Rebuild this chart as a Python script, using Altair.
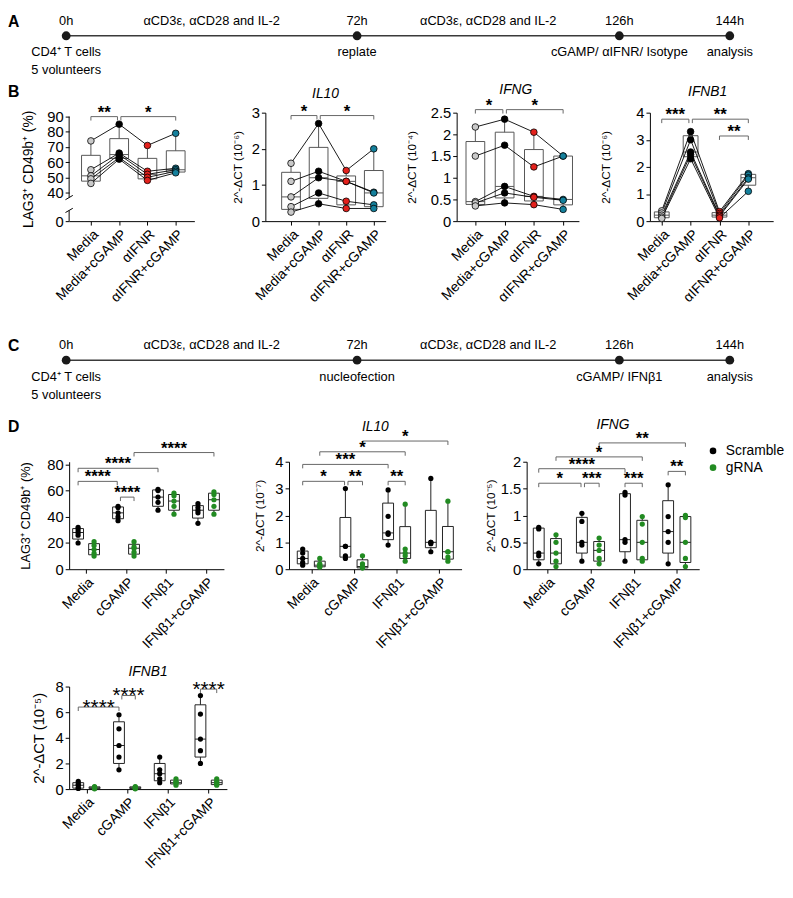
import altair as alt
import numpy as np
import pandas as pd

FONT = "Liberation Sans"

# ---------------- timelines (A, C) ----------------
TL_HOURS = [0, 72, 126, 144]
TL_HOUR_LABELS = ["0h", "72h", "126h", "144h"]
TL_MID_HOURS = [36, 99]
TL_MID_LABELS = ["αCD3ε, αCD28 and IL-2", "αCD3ε, αCD28 and IL-2"]
A_EVENTS = ["CD4⁺ T cells\n5 volunteers", "replate", "cGAMP/ αIFNR/ Isotype", "analysis"]
C_EVENTS = ["CD4⁺ T cells\n5 volunteers", "nucleofection", "cGAMP/ IFNβ1", "analysis"]

# ---------------- panel B (rows = donors, columns = conditions) ----------------
B_CONDS = ["Media", "Media+cGAMP", "αIFNR", "αIFNR+cGAMP"]
B_COLORS = ["#c9c9c9", "#000000", "#e3211c", "#14809c"]
B_LAG3 = [[74, 85, 71, 79], [55, 66, 54, 56], [51, 65, 52, 55], [49, 63, 50, 54], [46, 62, 48, 53]]
B_IL10 = [[1.6, 2.7, 1.4, 2.0], [1.1, 1.38, 1.1, 0.8], [0.67, 1.2, 1.1, 0.78],
          [0.4, 0.78, 0.55, 0.45], [0.25, 0.48, 0.35, 0.35]]
B_IFNG = [[2.17, 2.35, 2.05, 1.5], [1.5, 1.75, 1.25, 1.5], [0.45, 0.8, 0.57, 0.5],
          [0.42, 0.65, 0.55, 0.48], [0.35, 0.42, 0.38, 0.27]]
B_IFNB1 = [[0.38, 3.3, 0.35, 1.75], [0.3, 3.0, 0.28, 1.7], [0.22, 2.55, 0.22, 1.6],
           [0.15, 2.45, 0.18, 1.55], [0.1, 2.3, 0.12, 1.1]]
# significance brackets: (from, to, level, label)
B_LAG3_SIG = [(0, 0.94, 90, "**"), (1.06, 3, 90, "*")]
B_IL10_SIG = [(0, 0.94, 2.92, "*"), (1.06, 3, 2.92, "*")]
B_IFNG_SIG = [(0, 0.94, 2.57, "*"), (1.06, 3, 2.57, "*")]
B_IFNB1_SIG = [(0, 0.94, 3.76, "***"), (1.06, 3, 3.76, "**"), (2, 3, 3.14, "**")]

# ---------------- panel D (rows = conditions, 5 donors each) ----------------
D_CATS = ["Media", "cGAMP", "IFNβ1", "IFNβ1+cGAMP"]
D_GROUPS = ["Scramble", "gRNA"]
D_COLORS = ["#000000", "#228b22"]
D_LAG3_S = [[32, 30, 28, 26, 20], [48, 47, 43, 40, 37], [61, 60, 55, 51, 45], [50, 47, 45, 43, 35]]
D_LAG3_G = [[21, 18, 15, 12, 10], [21, 17, 16, 13, 10], [58, 56, 52, 48, 42], [59, 57, 53, 48, 42]]
D_IL10_S = [[0.75, 0.6, 0.4, 0.25, 0.15], [3.0, 0.85, 0.85, 0.5, 0.4],
            [2.95, 1.97, 1.35, 1.3, 0.9], [3.38, 1.0, 1.0, 0.95, 0.65]]
D_IL10_G = [[0.4, 0.2, 0.15, 0.1, 0.08], [0.5, 0.2, 0.1, 0.05, 0.05],
            [2.42, 0.75, 0.6, 0.5, 0.3], [2.53, 0.65, 0.65, 0.45, 0.3]]
D_IFNG_S = [[0.78, 0.75, 0.3, 0.25, 0.1], [1.04, 0.89, 0.5, 0.45, 0.15],
            [1.43, 1.38, 0.55, 0.5, 0.15], [1.57, 0.98, 0.7, 0.5, 0.1]]
D_IFNG_G = [[0.64, 0.5, 0.3, 0.15, 0.05], [0.58, 0.45, 0.35, 0.2, 0.1],
            [0.98, 0.84, 0.5, 0.2, 0.15], [1.0, 0.96, 0.5, 0.2, 0.05]]
D_IFNB1_S = [[0.6, 0.4, 0.3, 0.1, 0.05], [5.8, 4.7, 3.4, 2.5, 1.5],
             [2.5, 1.5, 1.2, 0.8, 0.5], [7.3, 5.85, 3.9, 3.0, 2.0]]
D_IFNB1_G = [[0.2, 0.15, 0.1, 0.05, 0.02], [0.2, 0.15, 0.1, 0.05, 0.02],
             [0.8, 0.6, 0.5, 0.5, 0.3], [0.8, 0.6, 0.5, 0.4, 0.3]]
D_LAG3_SIG = [(-0.2, 0.78, 67, "****"), (0.86, 1.2, 55, "****"), (-0.2, 1.8, 77, "****"), (1.2, 3.2, 89, "****")]
D_IL10_SIG = [(-0.2, 0.78, 3.27, "*"), (0.86, 1.2, 3.27, "**"), (-0.2, 1.8, 3.9, "***"),
              (1.8, 2.2, 3.27, "**"), (0.2, 2.2, 4.37, "*"), (1.2, 3.2, 4.77, "*")]
D_IFNG_SIG = [(-0.2, 0.78, 1.6, "*"), (0.86, 1.2, 1.6, "***"), (-0.2, 1.8, 1.87, "****"),
              (1.8, 2.2, 1.6, "***"), (0.2, 2.2, 2.09, "*"), (1.2, 3.2, 2.35, "**"), (2.8, 3.2, 1.82, "**")]
D_IFNB1_SIG = [(-0.2, 0.8, 6.4, "****"), (0.87, 1.2, 7.3, "****"), (2.8, 3.2, 7.8, "****")]
GROUP_SHIFT = {"Scramble": -0.2, "gRNA": 0.2}

TL_RANGE = [-3, 292, 558, 670]


def box_stats(vals):
    a = np.asarray(vals, dtype=float)
    q1, med, q3 = np.percentile(a, [25, 50, 75], method="weibull")
    return dict(lo=float(a.min()), q1=float(q1), med=float(med), q3=float(q3), hi=float(a.max()))


def sig_frame(sig):
    df = pd.DataFrame(sig, columns=["x1", "x2", "y", "lab"])
    df["xm"] = (df["x1"] + df["x2"]) / 2
    return df


def letter_title(letter, offset, dy=0):
    return alt.TitleParams(letter, anchor="start", frame="group", dx=-62, dy=dy, offset=offset,
                           fontSize=16, fontWeight="bold", font=FONT)


def gene_title(name, offset, dx=0):
    return alt.TitleParams(name, anchor="middle", frame="group", offset=offset, dx=dx, fontSize=14,
                           fontStyle="italic", fontWeight="normal", font=FONT)


def timeline(title, events, height, line_y):
    ev = pd.DataFrame({"h": TL_HOURS, "lab": TL_HOUR_LABELS, "ev": events})
    mid = pd.DataFrame({"h": TL_MID_HOURS, "lab": TL_MID_LABELS})
    span = pd.DataFrame({"h": [TL_HOURS[0]], "h2": [TL_HOURS[-1]]})
    xs = alt.Scale(domain=TL_HOURS, range=TL_RANGE, nice=False, zero=False)
    X = alt.X("h:Q", scale=xs, axis=None)
    yv = alt.value(line_y)
    layers = [
        alt.Chart(span).mark_rule(color="#3a3a3a", strokeWidth=1.6).encode(x=X, x2="h2:Q", y=yv),
        alt.Chart(ev).mark_circle(size=80, color="#1a1a1a", opacity=1).encode(x=X, y=yv),
        alt.Chart(ev).mark_text(fontSize=13, baseline="middle", dy=-15).encode(x=X, y=yv, text="lab:N"),
        alt.Chart(mid).mark_text(fontSize=13, baseline="middle", dy=-15).encode(x=X, y=yv, text="lab:N"),
        alt.Chart(ev).mark_text(fontSize=13, baseline="top", dy=11, lineBreak="\n", lineHeight=18)
        .encode(x=X, y=yv, text="ev:N"),
    ]
    return alt.layer(*layers).properties(width=670, height=height, title=title)


def axis_x(cats):
    expr = "[" + ",".join("'%s'" % c for c in cats) + "][datum.value]"
    return alt.Axis(values=list(range(len(cats))), labelExpr=expr, title=None, labelAngle=-45,
                    labelAlign="right", labelBaseline="top", labelFontSize=14, tickSize=4,
                    labelPadding=2, labelOverlap=False, grid=False, domainColor="black", tickColor="black")


def axis_y(values, title, tsize, tpad, domain=True):
    return alt.Axis(values=values, title=title, format=".6~g", domain=domain, tickSize=4,
                    labelFontSize=15, titleFontSize=tsize, titleFontWeight="normal", labelOverlap=False,
                    titlePadding=tpad, labelPadding=2, grid=False, domainColor="black", tickColor="black")


def panel(points, boxes, sig, *, cats, xdom, yscale, yaxis, width, height, box_w, box_color,
          point_mark, point_enc, title, lines=False, sig_size=17, sig_dy=1, sig_weight="bold", extra=()):
    xs = alt.Scale(domain=xdom, nice=False, zero=False)
    xa = axis_x(cats)

    def X(f):
        return alt.X(f, type="quantitative", scale=xs, axis=xa)

    def Y(f):
        return alt.Y(f, type="quantitative", scale=yscale, axis=yaxis)

    bb = alt.Chart(boxes)
    layers = [
        bb.mark_rule(color=box_color, strokeWidth=1).encode(x=X("pos"), y=Y("lo"), y2="hi"),
        bb.mark_rect(fill="white", stroke=box_color, strokeWidth=1, xOffset=-box_w / 2, x2Offset=box_w / 2)
        .encode(x=X("pos"), x2="pos", y=Y("q1"), y2="q3"),
        bb.mark_rule(color=box_color, strokeWidth=1, xOffset=-box_w / 2, x2Offset=box_w / 2)
        .encode(x=X("pos"), x2="pos", y=Y("med")),
    ]
    if lines:
        layers.append(alt.Chart(points).mark_line(color="black", strokeWidth=0.9)
                      .encode(x=X("pos"), y=Y("v"), detail="donor:N"))
    layers.append(alt.Chart(points).mark_circle(**point_mark).encode(x=X("pos"), y=Y("v"), **point_enc))
    s = alt.Chart(sig_frame(sig))
    layers += [
        s.mark_rule(color="#666666", strokeWidth=1).encode(x=X("x1"), x2="x2", y=Y("y")),
        s.mark_rule(color="#666666", strokeWidth=1, y2Offset=4).encode(x=X("x1"), y=Y("y"), y2="y"),
        s.mark_rule(color="#666666", strokeWidth=1, y2Offset=4).encode(x=X("x2"), y=Y("y"), y2="y"),
        s.mark_text(fontSize=sig_size, fontWeight=sig_weight, baseline="alphabetic", dy=sig_dy)
        .encode(x=X("xm"), y=Y("y"), text="lab:N"),
    ]
    for f in extra:
        layers.append(f(X, Y))
    return alt.layer(*layers).properties(width=width, height=height, title=title)


# ---------------- B builders ----------------
def b_frames(rows):
    pts = pd.DataFrame([dict(donor=d, pos=j, cond=B_CONDS[j], v=v)
                        for d, row in enumerate(rows) for j, v in enumerate(row)])
    boxes = pd.DataFrame([dict(pos=j, **box_stats([r[j] for r in rows])) for j in range(len(B_CONDS))])
    return pts, boxes


B_POINT_MARK = dict(size=45, opacity=1, stroke="black", strokeWidth=0.8)
B_POINT_ENC = dict(fill=alt.Fill("cond:N", scale=alt.Scale(domain=B_CONDS, range=B_COLORS), legend=None))


def b_panel(rows, sig, xdom, yscale, yaxis, width, title, box_w=19, extra=()):
    pts, boxes = b_frames(rows)
    return panel(pts, boxes, sig, cats=B_CONDS, xdom=xdom, yscale=yscale, yaxis=yaxis, width=width,
                 height=110, box_w=box_w, box_color="#555555", point_mark=B_POINT_MARK,
                 point_enc=B_POINT_ENC, title=title, lines=True, extra=extra)


B1_XDOM = [-0.77, 3.66]
break_df = pd.DataFrame({"y": [0, 33], "y2": [15, 90], "x": [B1_XDOM[0]] * 2})
slash_df = pd.DataFrame({"x": [B1_XDOM[0] - 0.13] * 2, "x2": [B1_XDOM[0] + 0.13] * 2,
                         "y": [12, 30], "y2": [18, 36]})


def axis_break(X, Y):
    return alt.layer(
        alt.Chart(break_df).mark_rule(color="black", strokeWidth=1).encode(x=X("x"), y=Y("y"), y2="y2"),
        alt.Chart(slash_df).mark_rule(color="black", strokeWidth=1).encode(x=X("x"), x2="x2", y=Y("y"), y2="y2"),
    )


b1 = b_panel(B_LAG3, B_LAG3_SIG, B1_XDOM,
             alt.Scale(domain=[0, 40, 90], range=[110, 81, 4], nice=False, zero=False),
             axis_y([0, 40, 50, 60, 70, 80, 90], "LAG3⁺ CD49b⁺ (%)", 14, 11, domain=False),
             127, letter_title("B", 4), extra=[axis_break])
b2 = b_panel(B_IL10, B_IL10_SIG, [-0.93, 3.43], alt.Scale(domain=[0, 3], nice=False, zero=False),
             axis_y([0, 1, 2, 3], "2^-ΔCT (10⁻⁶)", 12, 7), 122, gene_title("IL10", 2))
b3 = b_panel(B_IFNG, B_IFNG_SIG, [-0.64, 3.54], alt.Scale(domain=[0, 2.5], nice=False, zero=False),
             axis_y([0, 0.5, 1, 1.5, 2, 2.5], "2^-ΔCT (10⁻⁴)", 12, 12), 124, gene_title("IFNG", 0, dx=-2))
b4 = b_panel(B_IFNB1, B_IFNB1_SIG, [-0.41, 3.86], alt.Scale(domain=[0, 4], nice=False, zero=False),
             axis_y([0, 1, 2, 3, 4], "2^-ΔCT (10⁻⁶)", 12, 24), 125, gene_title("IFNB1", 7, dx=-4),
             box_w=15)


# ---------------- D builders ----------------
def d_frames(S, G):
    pts, boxes = [], []
    for grp, arr in (("Scramble", S), ("gRNA", G)):
        for i, vals in enumerate(arr):
            pos = i + GROUP_SHIFT[grp]
            for v in vals:
                pts.append(dict(pos=pos, v=v, grp=grp))
            boxes.append(dict(pos=pos, **box_stats(vals)))
    return pd.DataFrame(pts), pd.DataFrame(boxes)


def d_panel(S, G, sig, xdom, ydom, yaxis, width, height, title, legend=None, sig_size=17, sig_dy=1,
            sig_weight="bold"):
    pts, boxes = d_frames(S, G)
    enc = dict(color=alt.Color("grp:N", scale=alt.Scale(domain=D_GROUPS, range=D_COLORS), legend=legend))
    return panel(pts, boxes, sig, cats=D_CATS, xdom=xdom,
                 yscale=alt.Scale(domain=ydom, nice=False, zero=False), yaxis=yaxis, width=width,
                 height=height, box_w=11, box_color="#222222", point_mark=dict(size=28, opacity=1),
                 point_enc=enc, title=title, sig_size=sig_size, sig_dy=sig_dy, sig_weight=sig_weight)


D_LEGEND = alt.Legend(orient="none", legendX=182, legendY=-18, title=None, labelFontSize=14,
                      symbolType="circle", symbolSize=45, symbolStrokeWidth=0, rowPadding=3,
                      labelOffset=6, labelFont=FONT)

d1 = d_panel(D_LAG3_S, D_LAG3_G, D_LAG3_SIG, [-0.424, 3.45], [0, 82],
             axis_y([0, 20, 40, 60, 80], "LAG3⁺ CD49b⁺ (%)", 13, 14), 157, 109, letter_title("D", 5))
d2 = d_panel(D_IL10_S, D_IL10_G, D_IL10_SIG, [-0.52, 3.52], [0, 4],
             axis_y([0, 1, 2, 3, 4], "2^-ΔCT (10⁻⁷)", 12, 9), 175, 109, gene_title("IL10", -6))
d3 = d_panel(D_IFNG_S, D_IFNG_G, D_IFNG_SIG, [-0.48, 3.52], [0, 2],
             axis_y([0, 0.5, 1, 1.5, 2], "2^-ΔCT (10⁻⁵)", 12, 3), 175, 109, gene_title("IFNG", -2),
             legend=D_LEGEND)
d4 = d_panel(D_IFNB1_S, D_IFNB1_G, D_IFNB1_SIG, [-0.424, 3.45], [0, 8],
             axis_y([0, 2, 4, 6, 8], "2^-ΔCT (10⁻⁵)", 15, 9), 160, 104, gene_title("IFNB1", 0),
             sig_size=21, sig_dy=7, sig_weight="normal")

RES = dict(x="independent", y="independent", color="independent", fill="independent")

row_a = timeline(letter_title("A", -15), A_EVENTS, 48, 7)
row_c = timeline(letter_title("C", -15), C_EVENTS, 52, 7)
row_b = alt.hconcat(b1, b2, b3, b4, spacing=72, bounds="flush").resolve_scale(**RES)
row_d = alt.hconcat(d1, d2, d3, spacing=66, bounds="flush").resolve_scale(**RES)

ab = alt.vconcat(row_a, row_b, spacing=5).resolve_scale(**RES)
abc = alt.vconcat(ab, row_c, spacing=34).resolve_scale(**RES)
abcd = alt.vconcat(abc, row_d, spacing=13).resolve_scale(**RES)
chart = alt.vconcat(abcd, d4, spacing=14).resolve_scale(**RES)

chart = (chart.properties(padding=0, background="white")
         .configure(font=FONT)
         .configure_view(stroke=None)
         .configure_axis(labelColor="black", titleColor="black", labelFont=FONT, titleFont=FONT)
         .configure_text(font=FONT, color="black"))

chart.save("out.html", embed_options={"renderer": "svg", "actions": False})
